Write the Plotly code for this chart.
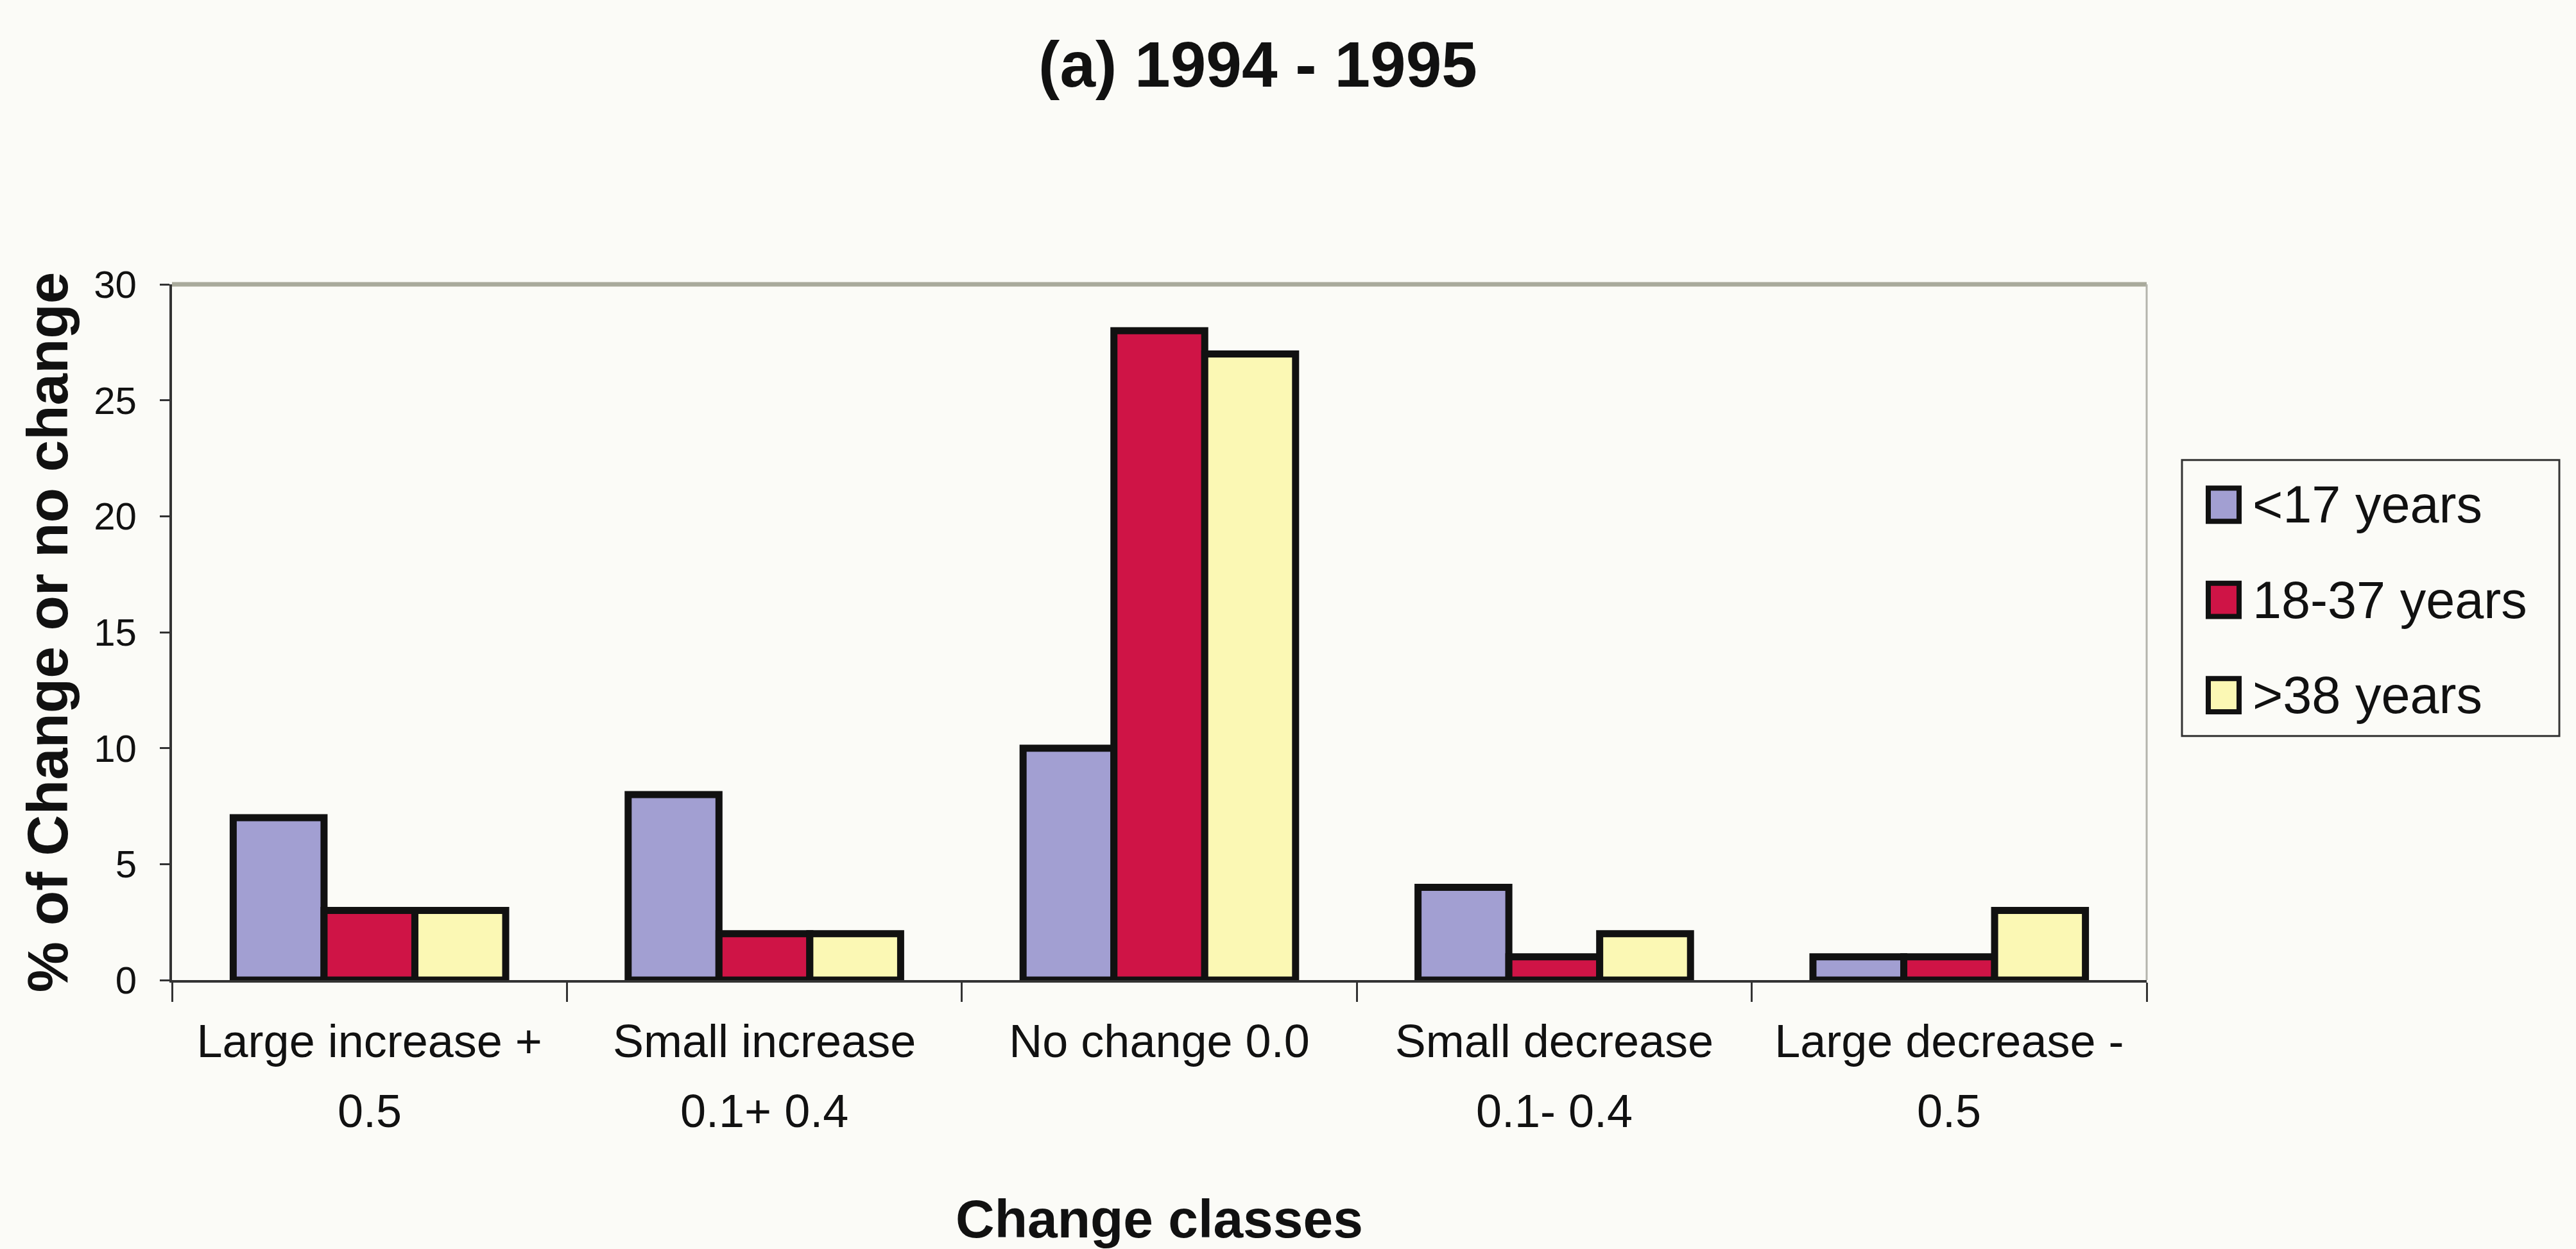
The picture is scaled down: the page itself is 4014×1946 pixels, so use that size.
import plotly.graph_objects as go

# Change classes: category keys, first and second label lines
classes = ["Large increase + 0.5", "Small increase 0.1+ 0.4", "No change 0.0",
           "Small decrease 0.1- 0.4", "Large decrease - 0.5"]
class_main = ["Large increase +", "Small increase", "No change 0.0",
              "Small decrease", "Large decrease -"]
class_sub = ["0.5", "0.1+ 0.4", "", "0.1- 0.4", "0.5"]

# Age groups and % of change / no change per class
age_groups = ["<17 years", "18-37 years", ">38 years"]
under_17 = [7, 8, 10, 4, 1]
age_18_37 = [3, 2, 28, 1, 1]
over_38 = [3, 2, 27, 2, 3]

y_ticks = [0, 5, 10, 15, 20, 25, 30]

colors = ["#A29FD2", "#CF1446", "#FBF8B4"]
series = [under_17, age_18_37, over_38]

W, H = 4014, 1946
L, R, T, B = 268, 3345, 443, 1532
BG = "#FBFBF7"
INK = "#111111"
FONT = "Liberation Sans, Arial, sans-serif"


def px_x(x):
    return (x - L) / (R - L)


def px_y(y):
    return (B - y) / (B - T)


fig = go.Figure()
for name, vals, col in zip(age_groups, series, colors):
    fig.add_trace(go.Bar(
        x=classes, y=vals, name=name,
        marker=dict(color=col, line=dict(color=INK, width=11)),
        showlegend=False,
    ))

# Plot-area frame: grey top and right edges
shapes = [
    dict(type="line", xref="paper", yref="paper", x0=0, x1=1, y0=1, y1=1,
         line=dict(color="#A9AA9C", width=7)),
    dict(type="line", xref="paper", yref="paper", x0=1, x1=1, y0=0, y1=1,
         line=dict(color="#B4B4AC", width=3)),
]
annotations = []

# Second line of the category labels, placed on the category axis
for cat, sub in zip(classes, class_sub):
    if sub:
        annotations.append(dict(xref="x", yref="paper", x=cat, y=px_y(1737),
                                xanchor="center", yanchor="middle", showarrow=False,
                                text=sub, font=dict(family=FONT, size=72, color=INK)))

# Legend box with square swatches
leg_x0, leg_x1, leg_y0, leg_y1 = 3400, 3988, 718, 1150
shapes.append(dict(type="rect", xref="paper", yref="paper",
                   x0=px_x(leg_x0), x1=px_x(leg_x1), y0=px_y(leg_y1), y1=px_y(leg_y0),
                   line=dict(color="#333333", width=3), fillcolor=BG, layer="below"))
row_y = [788, 937, 1086]
for name, col, cy in zip(age_groups, colors, row_y):
    shapes.append(dict(type="rect", xref="paper", yref="paper",
                       x0=px_x(3441), x1=px_x(3489), y0=px_y(cy + 26), y1=px_y(cy - 26),
                       line=dict(color=INK, width=8), fillcolor=col))
    annotations.append(dict(xref="paper", yref="paper", x=px_x(3508), y=px_y(cy),
                            xanchor="left", yanchor="middle", showarrow=False,
                            text=name.replace("<", "&lt;").replace(">", "&gt;"),
                            font=dict(family=FONT, size=81, color=INK)))

fig.update_layout(
    width=W, height=H,
    margin=dict(l=L, r=W - R, t=T, b=H - B, pad=0),
    paper_bgcolor=BG, plot_bgcolor=BG,
    barmode="group", bargap=0.31, bargroupgap=0,
    showlegend=False,
    title=dict(text="<b>(a) 1994 - 1995</b>", xref="paper", x=px_x(1960), xanchor="center",
               yref="container", y=1 - 100 / H, yanchor="middle",
               font=dict(family=FONT, size=100, color=INK)),
    shapes=shapes, annotations=annotations,
    font=dict(family=FONT, color=INK),
)

fig.update_xaxes(
    type="category", tickvals=classes, ticktext=class_main,
    tickson="boundaries", ticks="outside", ticklen=30, tickwidth=3, tickcolor="#333333",
    showline=True, linecolor="#333333", linewidth=4, showgrid=False, zeroline=False,
    ticklabelstandoff=30,
    tickfont=dict(family=FONT, size=72, color=INK),
    title=dict(text="<b>Change classes</b>", standoff=213,
               font=dict(family=FONT, size=84, color=INK)),
)
fig.update_yaxes(
    range=[0, 30], tickvals=y_ticks, ticks="outside", ticklen=15, tickwidth=3,
    tickcolor="#333333", showline=True, linecolor="#333333", linewidth=4,
    showgrid=False, zeroline=False, ticklabelstandoff=24,
    tickfont=dict(family=FONT, size=60, color=INK),
    title=dict(text="<b>% of Change or no change</b>", standoff=12,
               font=dict(family=FONT, size=89, color=INK)),
)

fig.write_html("out.html")
